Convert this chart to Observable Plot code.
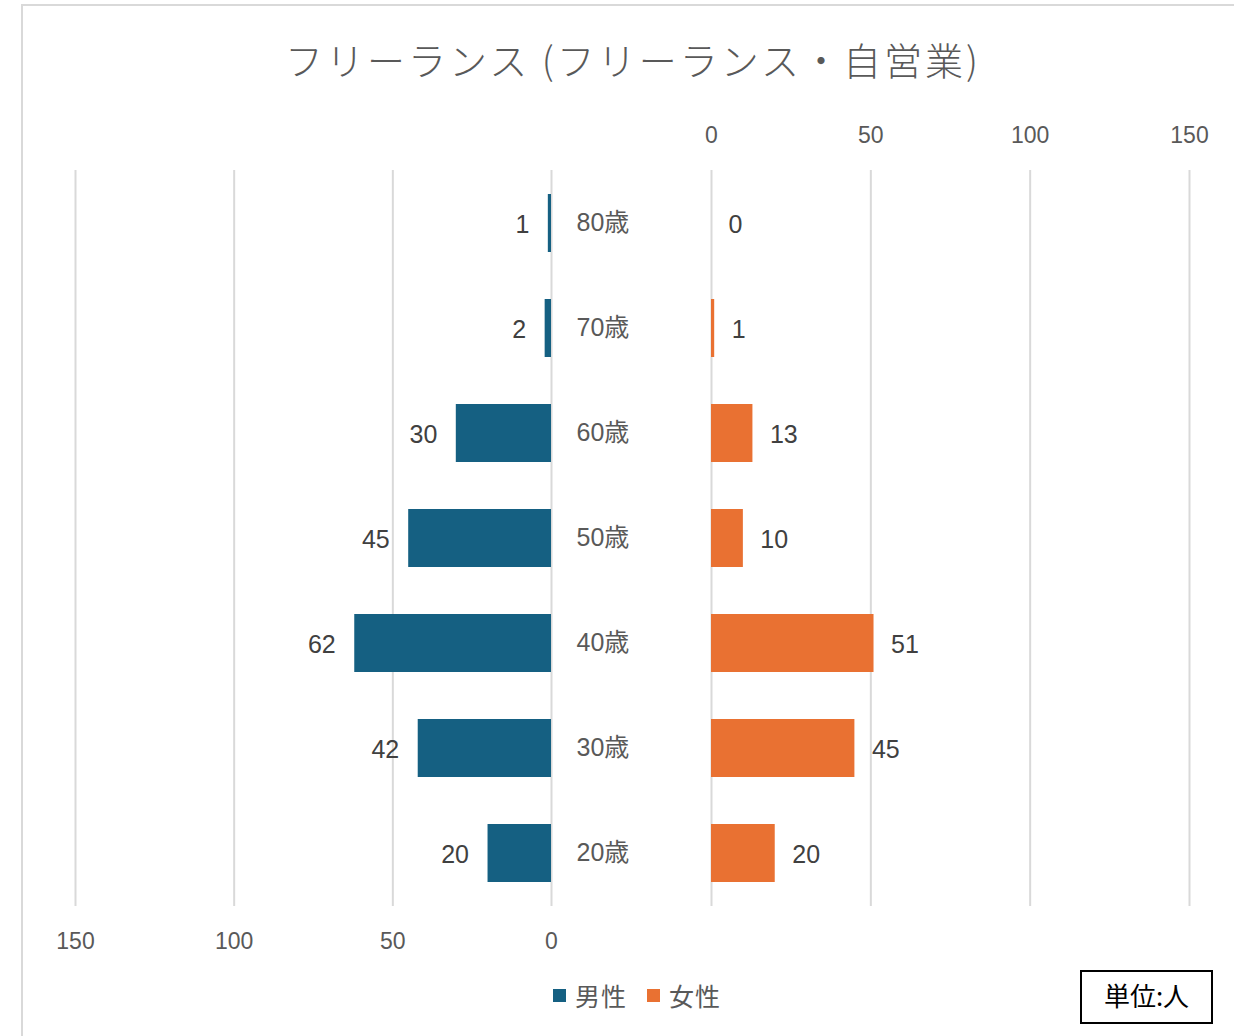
<!DOCTYPE html>
<html>
<head>
<meta charset="utf-8">
<script src="https://cdn.jsdelivr.net/npm/d3@7"></script>
<script src="https://cdn.jsdelivr.net/npm/@observablehq/plot@0.6"></script>
<style>
  html, body { margin: 0; padding: 0; background: #fff; }
  body { width: 1234px; height: 1036px; position: relative; overflow: hidden;
         font-family: "Liberation Sans", Arial, "Noto Sans CJK JP", sans-serif; }
  #frame { position: absolute; left: 21px; top: 4px; width: 1300px; height: 1100px;
           border: 2px solid #d9d9d9; box-sizing: border-box; }
  #title { position: absolute; left: 0; width: 1266px; top: 31px; text-align: center;
           font-family: "Noto Sans CJK JP", sans-serif; font-weight: 300; font-size: 38px;
           letter-spacing: 3px; color: #595959; white-space: nowrap; }
  .panel { position: absolute; top: 0; }
  .panel svg { overflow: visible; }
  #legend { position: absolute; top: 977px; left: 553px; font-family: "Noto Sans CJK JP", sans-serif;
            font-size: 25px; letter-spacing: 1px; color: #595959; display: flex; align-items: center; white-space: nowrap; }
  #legend .sw { display: inline-block; width: 13px; height: 13px; margin-right: 9px; }
  #unit { position: absolute; left: 1080px; top: 970px; width: 133px; height: 54px; box-sizing: border-box;
          border: 2px solid #000; font-family: "Noto Sans CJK JP", sans-serif; font-size: 26px; color: #000;
          display: flex; align-items: center; justify-content: center; padding-bottom: 5px; }
</style>
</head>
<body>
<div id="frame"></div>
<div id="title">フリーランス (フリーランス・自営業)</div>
<div id="left" class="panel" style="left:0px"></div>
<div id="right" class="panel" style="left:600px"></div>
<div id="legend"></div>
<div id="unit">単位:人</div>
<script>
const ages = ["80歳", "70歳", "60歳", "50歳", "40歳", "30歳", "20歳"];
const male = [1, 2, 30, 45, 62, 42, 20];
const female = [0, 1, 13, 10, 51, 45, 20];
const ticks = [0, 50, 100, 150];
const seriesNames = ["男性", "女性"];
const seriesColors = ["#156082", "#E97132"];

const maleData = ages.map((a, i) => ({age: a, value: male[i]}));
const femaleData = ages.map((a, i) => ({age: a, value: female[i]}));

const gridColor = "#d9d9d9";
const yScale = {domain: ages, paddingInner: 0.45, paddingOuter: 0.225, axis: null};

const leftPlot = Plot.plot({
  width: 640, height: 960,
  marginLeft: 75, marginRight: 89, marginTop: 170, marginBottom: 54,
  style: {fontFamily: "'Liberation Sans', Arial, sans-serif", fontSize: "23px", color: "#595959", overflow: "visible"},
  x: {domain: [0, 150], reverse: true, ticks: ticks},
  y: yScale,
  marks: [
    Plot.gridX(ticks, {stroke: gridColor, strokeOpacity: 1, strokeWidth: 2}),
    Plot.axisX(ticks, {anchor: "bottom", tickSize: 0, tickPadding: 26, fontSize: 23, fill: "#595959", label: null}),
    Plot.barX(maleData, {x: "value", y: "age", fill: seriesColors[0]}),
    Plot.text(maleData, {x: "value", y: "age", text: d => String(d.value), textAnchor: "end", dx: -19, dy: 1, fontSize: 25, fill: "#404040"}),
    Plot.text(ages, {x: () => 0, y: d => d, text: d => d, textAnchor: "start", dx: 25, dy: -1, fontSize: 25, fill: "#595959",
      fontFamily: "'Liberation Sans', 'Noto Sans CJK JP', sans-serif"})
  ]
});
document.getElementById("left").appendChild(leftPlot);

const rightPlot = Plot.plot({
  width: 634, height: 960,
  marginLeft: 111, marginRight: 45, marginTop: 170, marginBottom: 54,
  style: {fontFamily: "'Liberation Sans', Arial, sans-serif", fontSize: "23px", color: "#595959", overflow: "visible"},
  x: {domain: [0, 150], ticks: ticks},
  y: yScale,
  marks: [
    Plot.gridX(ticks, {stroke: gridColor, strokeOpacity: 1, strokeWidth: 2}),
    Plot.axisX(ticks, {anchor: "top", tickSize: 0, tickPadding: 28, fontSize: 23, fill: "#595959", label: null}),
    Plot.barX(femaleData, {x: "value", y: "age", fill: seriesColors[1]}),
    Plot.text(femaleData, {x: "value", y: "age", text: d => String(d.value), textAnchor: "start", dx: 17, dy: 1, fontSize: 25, fill: "#404040"})
  ]
});
document.getElementById("right").appendChild(rightPlot);

const legend = document.getElementById("legend");
seriesNames.forEach((name, i) => {
  const item = document.createElement("span");
  item.style.display = "inline-flex";
  item.style.alignItems = "center";
  item.style.marginRight = i === 0 ? "20px" : "0";
  item.innerHTML = `<span class="sw" style="background:${seriesColors[i]}"></span>${name}`;
  legend.appendChild(item);
});
</script>
</body>
</html>
